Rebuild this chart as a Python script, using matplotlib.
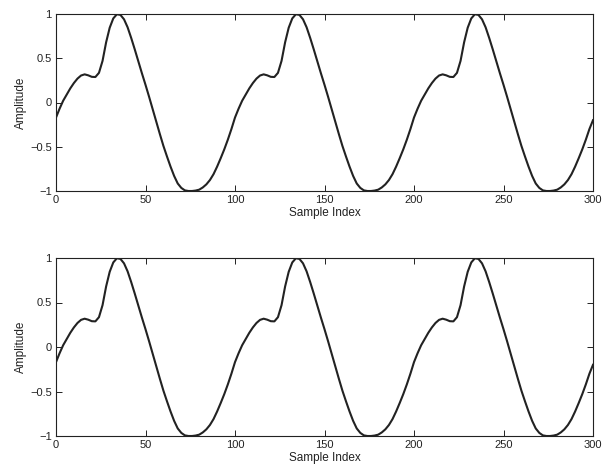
import matplotlib
matplotlib.use("Agg")
import matplotlib.pyplot as plt

plt.rcParams['font.family'] = ['Liberation Sans', 'DejaVu Sans']

# One period of the waveform (samples 0..98, step 2)
period_values = [
    -0.17, -0.07, 0.02, 0.09, 0.16, 0.22, 0.27, 0.305, 0.318, 0.307,
    0.29, 0.288, 0.335, 0.47, 0.68, 0.845, 0.95, 0.997, 0.99, 0.94,
    0.85, 0.73, 0.60, 0.465, 0.33, 0.20, 0.065, -0.075, -0.215, -0.355,
    -0.49, -0.61, -0.725, -0.83, -0.915, -0.965, -0.993, -1.0, -1.0, -0.995,
    -0.985, -0.96, -0.925, -0.876, -0.81, -0.725, -0.63, -0.53, -0.42, -0.30,
]
end_value = [-0.2]
sample_index = list(range(0, 301, 2))
amplitude = period_values + period_values + period_values + end_value

x_ticks = [0, 50, 100, 150, 200, 250, 300]
y_ticks = [-1, -0.5, 0, 0.5, 1]
y_ticklabels = ['\u22121', '\u22120.5', '0', '0.5', '1']

fig = plt.figure(figsize=(6.05, 4.70), dpi=100)
W, H = 605, 470
positions = [(56, 14, 593, 191), (56, 258, 593, 436)]

for (l, t, r, b) in positions:
    ax = fig.add_axes([l / W, 1 - b / H, (r - l) / W, (b - t) / H])
    ax.plot(sample_index, amplitude, color='#222222', lw=1.5)
    ax.set_xlim(0, 300)
    ax.set_ylim(-1, 1)
    ax.set_xticks(x_ticks)
    ax.set_xticklabels([str(v) for v in x_ticks])
    ax.set_yticks(y_ticks)
    ax.set_yticklabels(y_ticklabels)
    ax.tick_params(direction='in', length=4, width=0.7, top=True, right=True,
                   labelsize=8, pad=3, colors='#222222')
    for s in ax.spines.values():
        s.set_linewidth(0.8)
        s.set_color('#222222')
    ax.set_xlabel('Sample Index', fontsize=8.5, labelpad=1, color='#222222')
    ax.set_ylabel('Amplitude', fontsize=8.5, labelpad=2, color='#222222')

fig.savefig('out.png', dpi=100)
